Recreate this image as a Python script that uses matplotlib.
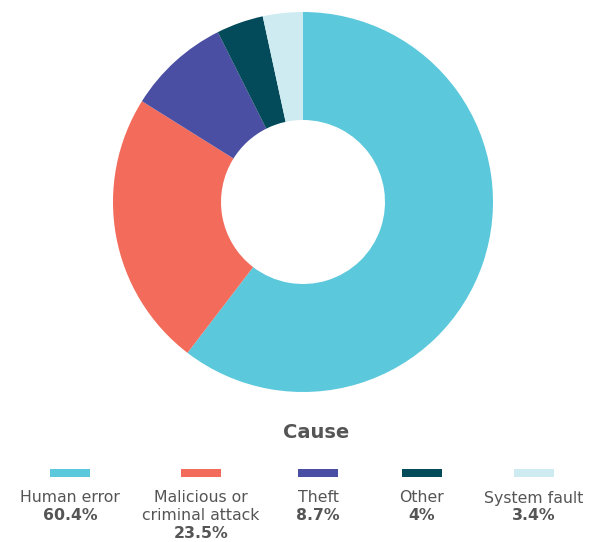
import matplotlib.pyplot as plt
from matplotlib.patches import Rectangle

causes = ["Human error", "Malicious or\ncriminal attack", "Theft", "Other", "System fault"]
shares = [60.4, 23.5, 8.7, 4, 3.4]
colours = ["#5BC8DC", "#F26B5B", "#4B4FA3", "#034A5A", "#CDEBF0"]
legend_x = [70, 201, 318, 422, 534]  # swatch centres, pixels

W, H = 592, 542
plt.rcParams['font.family'] = ['DejaVu Sans']
fig = plt.figure(figsize=(W / 100, H / 100), dpi=100)
grey = "#555555"

# donut
cx, cy, r = 303, 202, 190
ax = fig.add_axes([(cx - r) / W, (H - cy - r) / H, 2 * r / W, 2 * r / H])
ax.pie(shares, colors=colours, startangle=90, counterclock=False, radius=1,
       wedgeprops=dict(width=1 - 82 / 190, linewidth=0))
ax.set_xlim(-1, 1)
ax.set_ylim(-1, 1)
ax.set_aspect("equal")
ax.axis("off")

fig.text(316 / W, 1 - 433 / H, "Cause", ha="center", va="center",
         fontsize=14, fontweight="bold", color=grey)

for name, val, col, x in zip(causes, shares, colours, legend_x):
    fig.add_artist(Rectangle(((x - 20) / W, 1 - 477 / H), 40 / W, 8 / H,
                             transform=fig.transFigure, color=col, lw=0))
    y = 498
    for ln in name.split("\n"):
        fig.text(x / W, 1 - y / H, ln, ha="center", va="center", fontsize=11.3, color=grey)
        y += 18
    fig.text(x / W, 1 - y / H, f"{val:g}%", ha="center", va="center",
             fontsize=11.3, fontweight="bold", color=grey)

fig.savefig("out.png", dpi=100)
